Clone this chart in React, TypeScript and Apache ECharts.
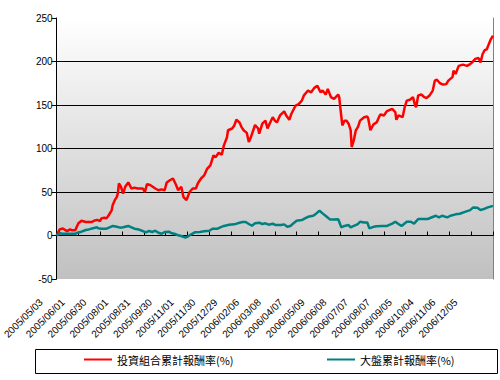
import React, { useEffect, useRef } from "react";
import * as echarts from "echarts";

const tickLabels = [
  "2005/05/03", "2005/06/01", "2005/06/30", "2005/08/01", "2005/08/31",
  "2005/09/30", "2005/11/01", "2005/11/30", "2005/12/29", "2006/02/06",
  "2006/03/08", "2006/04/07", "2006/05/09", "2006/06/08", "2006/07/07",
  "2006/08/07", "2006/09/05", "2006/10/04", "2006/11/06", "2006/12/05",
];
const daysPerTick = 21;
const totalDays = 420;

const seriesNames = ["投資組合累計報酬率(%)", "大盤累計報酬率(%)"];

// trading-day index and cumulative return (%)
const portfolioDays = [
  0, 3, 6, 10, 13, 15, 18, 19, 21, 24, 28, 34, 36, 39, 42, 43, 46, 48, 50, 53,
  54, 56, 58, 59, 60, 62, 64, 66, 69, 72, 75, 78, 83, 85, 87, 90, 95, 98, 101, 104,
  106, 109, 112, 115, 117, 120, 122, 125, 128, 131, 134, 136, 139, 142, 145, 148, 151, 153, 156, 159,
  161, 164, 165, 169, 171, 173, 176, 178, 180, 183, 185, 187, 191, 194, 195, 198, 201, 203, 205, 208,
  210, 212, 215, 219, 221, 224, 226, 230, 233, 236, 238, 242, 245, 248, 251, 254, 256, 259, 261, 264,
  267, 271, 272, 273, 275, 277, 279, 281, 283, 284, 286, 288, 290, 292, 296, 299, 300, 302, 305, 308,
  311, 312, 315, 318, 323, 326, 327, 329, 333, 335, 337, 340, 343, 345, 346, 348, 351, 354, 356, 359,
  362, 364, 366, 369, 372, 375, 377, 381, 382, 384, 387, 391, 395, 398, 400, 403, 406, 408, 410, 412,
  414, 416, 418, 420,
];
const portfolioReturns = [
  0, 7, 8, 5, 7, 6, 6, 9, 14, 17, 15.5, 15.5, 17, 18, 16.6, 19.7, 20.4, 19.7, 23, 29,
  35, 40.6, 44.4, 49, 60, 56, 48, 56, 61, 54, 55, 54, 54, 50, 59, 58, 54, 52, 53, 52,
  61, 63.5, 65.5, 58, 52, 56, 44.4, 40.6, 50, 54, 54, 60, 65.5, 69, 77, 80.7, 92, 90, 95, 93,
  103.6, 113, 121, 123, 126.5, 133, 130, 124.6, 121, 118, 107.4, 113, 127, 123, 117, 128.5, 132, 123, 128.5, 136,
  132, 130, 138, 142.6, 138, 133, 140, 149.4, 151, 155, 161, 166.6, 164.6, 169.7, 172, 164.6, 166.6, 162, 168.5, 159,
  157, 162, 159, 147.5, 126.5, 132, 132, 128.5, 121, 101.7, 109.4, 121, 124.6, 132, 136, 136.8, 134, 121, 127.7, 130,
  138, 139, 138, 143, 145.6, 141.8, 133, 138, 136, 147.5, 155, 156, 159, 149.4, 147.5, 161, 162, 159, 158, 161,
  166.6, 178, 179, 175, 173.5, 174, 178, 182, 189.5, 185.7, 195, 196.4, 195, 197, 199, 203, 204, 199, 208.6, 213,
  214, 220, 225.8, 229.6,
];

const marketDays = [
  0, 3, 6, 18, 20, 24, 28, 31, 36, 39, 40, 43, 48, 51, 54, 58, 61, 64, 69, 72,
  75, 79, 81, 86, 89, 92, 95, 98, 101, 104, 108, 111, 114, 117, 120, 124, 127, 130, 133, 138,
  142, 147, 150, 155, 157, 161, 166, 171, 176, 179, 182, 185, 188, 191, 195, 198, 201, 204, 208, 211,
  216, 219, 222, 225, 228, 231, 236, 239, 242, 247, 250, 253, 256, 260, 263, 267, 271, 272, 274, 277,
  281, 283, 286, 290, 292, 296, 299, 301, 305, 308, 313, 318, 323, 326, 329, 332, 337, 341, 344, 348,
  352, 357, 360, 365, 368, 371, 376, 379, 384, 388, 393, 398, 401, 405, 408, 411, 415, 420,
];
const marketReturns = [
  0, 2.5, 2, 2, 3.2, 4.4, 6.3, 7, 8.6, 9.4, 8.2, 7.8, 7.8, 9.4, 11, 10, 9, 9.4, 11, 9.4,
  7.8, 7, 6, 3.6, 5.2, 4, 5.5, 3.2, 2, 4, 4.4, 2.5, 1.7, 0.2, -0.6, -2.5, -0.6, 1.7, 3.6, 4,
  4.8, 5.5, 7.8, 7.8, 9, 11, 12.4, 12.8, 14.7, 15.5, 15.5, 13.2, 11.2, 14, 14.7, 13.2, 14, 12.4, 13.5, 12,
  12, 12.8, 10, 11, 14, 17, 17.7, 19.7, 21.5, 22.7, 25.4, 28.4, 25.4, 21.5, 18.5, 18.5, 18.8, 15.8, 9.4, 11,
  12, 9.4, 11, 13.2, 15.8, 15, 15, 8.2, 10, 10.6, 11, 11, 13.6, 15.8, 13.2, 11, 15.8, 15.8, 13.6, 18.9,
  18.9, 18.9, 20.4, 22.7, 20.8, 22.7, 20.8, 22.7, 24.3, 25, 27.2, 29.2, 32.3, 32, 29.2, 30.4, 32.3, 34.1,
];

const seriesColors = ["#ff0000", "#008080"];

export default function App() {
  const ref = useRef<HTMLDivElement>(null);

  useEffect(() => {
    if (!ref.current) return;
    const chart = echarts.init(ref.current, null, { renderer: "svg" });
    const font = "'Liberation Sans', Arial, sans-serif";
    const cjkFont = "'Noto Sans CJK TC', 'Noto Sans CJK SC', sans-serif";

    const portfolioData = portfolioDays.map((d, i) => [d, portfolioReturns[i]]);
    const marketData = marketDays.map((d, i) => [d, marketReturns[i]]);

    chart.setOption({
      animation: false,
      backgroundColor: "#ffffff",
      grid: {
        left: 48,
        right: 7,
        top: 18,
        bottom: 101,
        show: true,
        borderWidth: 0,
        backgroundColor: new echarts.graphic.LinearGradient(0, 0, 0, 1, [
          { offset: 0, color: "#ffffff" },
          { offset: 1, color: "#c0c0c0" },
        ]),
      },
      legend: [
        {
          data: [seriesNames[0]],
          left: 84,
          top: 354,
          padding: 0,
          icon: "rect",
          itemWidth: 28,
          itemHeight: 2,
          textStyle: { fontFamily: cjkFont, fontSize: 11, color: "#000" },
        },
        {
          data: [seriesNames[1]],
          left: 327,
          top: 354,
          padding: 0,
          icon: "rect",
          itemWidth: 28,
          itemHeight: 2,
          textStyle: { fontFamily: cjkFont, fontSize: 11, color: "#000" },
        },
      ],
      graphic: [
        {
          type: "rect",
          shape: { x: 35.5, y: 349.5, width: 462, height: 24 },
          style: { fill: "transparent", stroke: "#000", lineWidth: 1 },
          z: 0,
        },
      ],
      xAxis: [
        {
          type: "value",
          min: 0,
          max: totalDays,
          interval: daysPerTick,
          axisLine: { onZero: true, lineStyle: { color: "#000", width: 1 } },
          axisTick: { show: true, inside: true, length: 4, lineStyle: { color: "#000" } },
          axisLabel: { show: false },
          splitLine: { show: false },
        },
        {
          type: "value",
          position: "bottom",
          min: 0,
          max: totalDays,
          interval: daysPerTick,
          axisLine: { show: false, onZero: false },
          axisTick: { show: false },
          splitLine: { show: false },
          axisLabel: {
            show: true,
            rotate: 45,
            margin: 6,
            padding: [0, 22, 0, 0],
            fontFamily: font,
            fontSize: 10,
            color: "#000",
            showMinLabel: true,
            showMaxLabel: true,
            formatter: (v: number) => {
              const i = Math.round(v / daysPerTick);
              return tickLabels[i] ?? "";
            },
          },
        },
      ],
      yAxis: [
        {
          type: "value",
          min: -50,
          max: 250,
          interval: 50,
          axisLine: { show: true, lineStyle: { color: "#000", width: 1 } },
          axisTick: { show: true, inside: false, length: 5, lineStyle: { color: "#000" } },
          axisLabel: { fontFamily: font, fontSize: 10, color: "#000", margin: 4 },
          splitLine: {
            show: true,
            showMinLine: false,
            showMaxLine: false,
            lineStyle: { color: "#000", width: 1 },
          },
        },
        {
          type: "value",
          position: "right",
          min: -50,
          max: 250,
          interval: 50,
          axisLine: { show: true, onZero: false, lineStyle: { color: "#808080", width: 1 } },
          axisTick: { show: false },
          axisLabel: { show: false },
          splitLine: { show: false },
        },
      ],
      series: [
        {
          name: seriesNames[0],
          type: "line",
          data: portfolioData,
          showSymbol: false,
          symbol: "none",
          color: seriesColors[0],
          lineStyle: { color: seriesColors[0], width: 2.5 },
          xAxisIndex: 0,
          yAxisIndex: 0,
        },
        {
          name: seriesNames[1],
          type: "line",
          data: marketData,
          showSymbol: false,
          symbol: "none",
          color: seriesColors[1],
          lineStyle: { color: seriesColors[1], width: 2.5 },
          xAxisIndex: 0,
          yAxisIndex: 0,
        },
      ],
    });

    return () => chart.dispose();
  }, []);

  return (
    <div
      ref={ref}
      style={{ position: "fixed", left: 0, top: 0, width: 500, height: 380 }}
    />
  );
}
